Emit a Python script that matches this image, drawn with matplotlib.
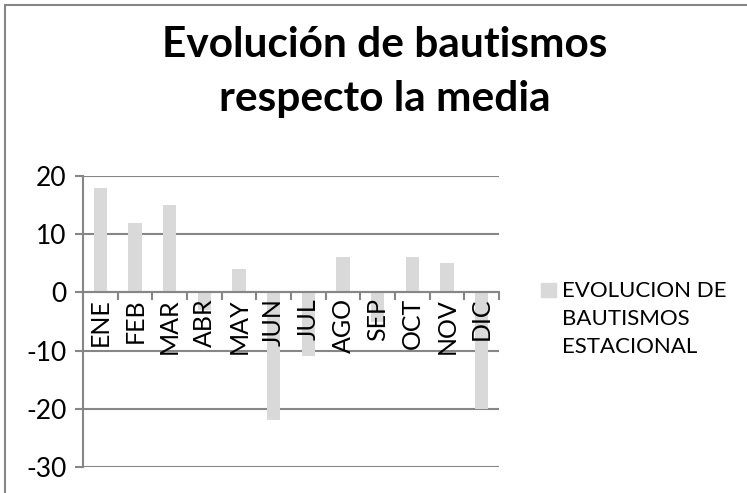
import numpy as np
import matplotlib
matplotlib.use("Agg")
import matplotlib.pyplot as plt
from matplotlib.patches import Rectangle

# === Data ===
months = ["ENE", "FEB", "MAR", "ABR", "MAY", "JUN", "JUL", "AGO", "SEP", "OCT", "NOV", "DIC"]
evolucion = [18, 12, 15, -3, 4, -22, -11, 6, -5, 6, 5, -20]
y_ticks = [-30, -20, -10, 0, 10, 20]
legend_label = "EVOLUCION DE\nBAUTISMOS\nESTACIONAL"
title = "Evolución de bautismos\nrespecto la media"

plt.rcParams['font.family'] = ['Lato', 'DejaVu Sans']
plt.rcParams['axes.unicode_minus'] = False
W, H = 747, 493
grey = "#868686"
bar_color = "#d9d9d9"

fig = plt.figure(figsize=(W / 100, H / 100), dpi=100)

# Chart-area border (only top/left visible in the reference)
fig.patches.append(Rectangle((5 / W, -0.1), 1.2, 1.1 - 5 / H, transform=fig.transFigure,
                             fill=False, edgecolor=grey, linewidth=1.5))

ax = fig.add_axes([83 / W, (H - 467) / H, 416 / W, 291 / H])
x = np.arange(len(months))

# gridlines under the bars, axis (labels) above them
for yv in y_ticks:
    ax.axhline(yv, color=grey, linewidth=1.5, zorder=1)
ax.bar(x, evolucion, width=0.39, color=bar_color, zorder=2)

ax.set_xlim(-0.5, len(months) - 0.5)
ax.set_ylim(-30, 20)
ax.set_yticks(y_ticks)
ax.set_axisbelow(False)

for s in ["top", "right"]:
    ax.spines[s].set_visible(False)
ax.spines["left"].set_color(grey)
ax.spines["left"].set_linewidth(1.5)
ax.spines["bottom"].set_position(("data", 0))
ax.spines["bottom"].set_color(grey)
ax.spines["bottom"].set_linewidth(1.5)

ax.tick_params(axis="y", length=6, width=1.5, color=grey, labelsize=19, pad=6, labelcolor="black")
ax.set_xticks(x)
ax.set_xticklabels(months, rotation=90)
ax.set_xticks(np.arange(len(months) + 1) - 0.5, minor=True)
ax.tick_params(axis="x", which="major", length=0, labelsize=18, pad=4)
ax.tick_params(axis="x", which="minor", length=6, width=1.5, color=grey)

# Title
fig.text(385 / W, 1 - 72 / H, title, ha="center", va="center", fontsize=30.5,
         fontweight="bold", linespacing=1.5)

# Legend (manual, to match the Excel layout)
fig.patches.append(Rectangle((541 / W, 1 - 297 / H), 15 / W, 14 / H,
                             transform=fig.transFigure, color=bar_color))
fig.text(562 / W, 1 - 281 / H, legend_label, ha="left", va="top", fontsize=16,
         linespacing=1.5)

fig.savefig("out.png", dpi=100)
